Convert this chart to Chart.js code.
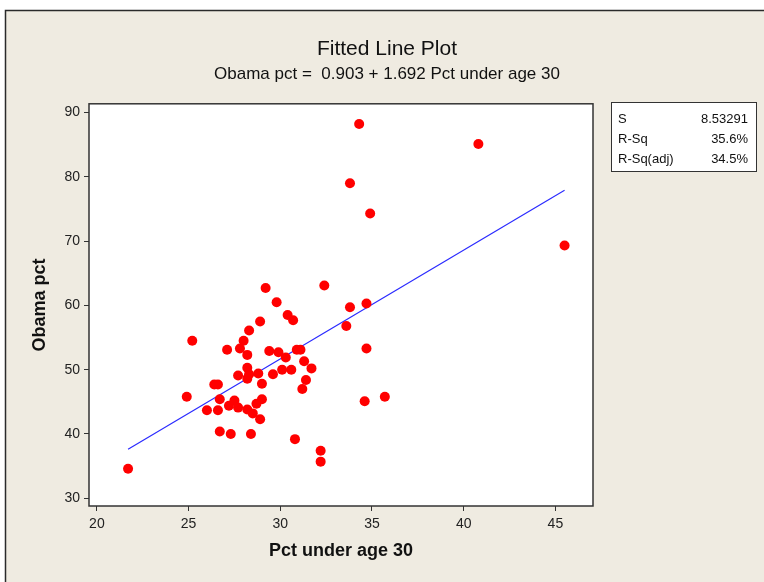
<!DOCTYPE html>
<html>
<head>
<meta charset="utf-8">
<script src="https://cdn.jsdelivr.net/npm/chart.js@4.4.1/dist/chart.umd.min.js"></script>
<style>
  html, body { margin: 0; padding: 0; background: #ffffff; }
  #wrap { width: 764px; height: 582px; }
</style>
</head>
<body>
<div id="wrap"><canvas id="c" width="764" height="582"></canvas></div>
<script>
// Percent of population under age 30 (x) and Obama vote percent (y)
const pctUnder30 = [29.2, 32.4, 29.8, 30.4, 30.7, 28.9, 28.3, 25.2, 28.0, 27.8,
  27.1, 28.2, 29.4, 29.9, 30.3, 30.9, 31.1, 31.3, 31.7, 28.2,
  28.3, 28.8, 27.7, 29.6, 30.1, 30.6, 28.2, 29.0, 31.4, 31.2,
  26.4, 26.6, 24.9, 26.7, 27.5, 27.2, 27.7, 26.0, 26.6, 28.2,
  28.5, 28.7, 29.0, 28.9, 26.7, 27.3, 28.4, 30.8, 32.2, 32.2,
  21.7, 34.3, 40.8, 33.8, 34.9, 45.5, 33.8, 34.7, 33.6, 34.7,
  34.6, 35.7];
const obamaPct = [62.7, 63.1, 60.5, 58.5, 57.7, 57.5, 56.1, 54.5, 54.5, 53.3,
  53.1, 52.3, 52.9, 52.7, 51.9, 53.1, 53.1, 51.3, 50.2, 50.3,
  49.3, 49.4, 49.1, 49.3, 50.0, 50.0, 48.6, 47.8, 48.4, 47.0,
  47.7, 47.7, 45.8, 45.4, 45.2, 44.4, 44.1, 43.7, 43.7, 43.8,
  43.2, 44.7, 45.4, 42.3, 40.4, 40.0, 40.0, 39.2, 37.4, 35.7,
  34.6, 88.2, 85.1, 79.0, 74.3, 69.3, 59.7, 60.3, 56.8, 53.3,
  45.1, 45.8];

// Regression fit: Obama pct = 0.903 + 1.692 Pct under age 30
const fitIntercept = 0.903;
const fitSlope = 1.692;

const xTicks = [20, 25, 30, 35, 40, 45];
const yTicks = [30, 40, 50, 60, 70, 80, 90];

const statLabels = ['S', 'R-Sq', 'R-Sq(adj)'];
const statValues = ['8.53291', '35.6%', '34.5%'];

const points = pctUnder30.map((x, i) => ({ x: x, y: obamaPct[i] }));
const xLo = Math.min(...pctUnder30);
const xHi = Math.max(...pctUnder30);
const fitLine = [xLo, xHi].map(x => ({ x: x, y: fitIntercept + fitSlope * x }));

const FONT = "'Liberation Sans', Arial, sans-serif";
const BG = '#EFEBE1';

// Panel background, plot frame and the summary box
const panel = {
  id: 'panel',
  beforeDraw(chart) {
    const { ctx, width, height, chartArea: a } = chart;
    ctx.save();
    ctx.fillStyle = '#ffffff';
    ctx.fillRect(0, 0, width, height);
    ctx.fillStyle = BG;
    ctx.fillRect(5, 10, width - 5, height - 10);
    ctx.strokeStyle = '#2a2a2a';
    ctx.lineWidth = 1.5;
    ctx.beginPath();
    ctx.moveTo(5.5, height);
    ctx.lineTo(5.5, 10.5);
    ctx.lineTo(width, 10.5);
    ctx.stroke();
    ctx.fillStyle = '#ffffff';
    ctx.fillRect(a.left, a.top, a.right - a.left, a.bottom - a.top);
    ctx.restore();
  },
  afterDatasetsDraw(chart) {
    const { ctx, chartArea: a } = chart;
    ctx.save();
    ctx.strokeStyle = '#333333';
    ctx.lineWidth = 1.5;
    ctx.strokeRect(a.left, a.top, a.right - a.left, a.bottom - a.top);
    ctx.restore();
  },
  afterDraw(chart) {
    const { ctx } = chart;
    const bx = 611.5, by = 102.5, bw = 145, bh = 69;
    ctx.save();
    ctx.fillStyle = '#ffffff';
    ctx.fillRect(bx, by, bw, bh);
    ctx.strokeStyle = '#333333';
    ctx.lineWidth = 1;
    ctx.strokeRect(bx, by, bw, bh);
    ctx.fillStyle = '#111111';
    ctx.font = '13px ' + FONT;
    ctx.textBaseline = 'middle';
    statLabels.forEach((lab, i) => {
      const y = 119 + i * 20.3;
      ctx.textAlign = 'left';
      ctx.fillText(lab, 618, y);
      ctx.textAlign = 'right';
      ctx.fillText(statValues[i], 748, y);
    });
    ctx.restore();
  }
};

new Chart(document.getElementById('c'), {
  type: 'scatter',
  data: {
    datasets: [
      {
        label: 'Obama pct',
        data: points,
        order: 0,
        pointRadius: 5,
        pointHoverRadius: 5,
        pointBackgroundColor: '#ff0000',
        pointBorderWidth: 0,
        borderColor: '#ff0000'
      },
      {
        label: 'Fit',
        type: 'line',
        data: fitLine,
        order: 1,
        showLine: true,
        borderColor: '#2b2bff',
        borderWidth: 1.2,
        pointRadius: 0,
        fill: false
      }
    ]
  },
  options: {
    responsive: false,
    devicePixelRatio: 1,
    animation: false,
    layout: { padding: { left: 10, right: 0, top: 0, bottom: 0 } },
    plugins: {
      legend: { display: false },
      tooltip: { enabled: false },
      title: {
        display: true,
        text: 'Fitted Line Plot',
        color: '#111111',
        font: { family: FONT, size: 21, weight: 'normal', lineHeight: 1.2 },
        padding: { top: 37, bottom: 0 }
      },
      subtitle: {
        display: true,
        text: 'Obama pct =  0.903 + 1.692 Pct under age 30',
        color: '#111111',
        font: { family: FONT, size: 17, weight: 'normal', lineHeight: 1.2 },
        padding: { top: 2, bottom: 19.2 }
      }
    },
    scales: {
      x: {
        type: 'linear',
        position: 'bottom',
        min: 19.57,
        max: 47.05,
        afterBuildTicks: s => { s.ticks = xTicks.map(v => ({ value: v })); },
        afterFit: s => { s.height = 76; },
        border: { display: false },
        grid: { display: true, drawOnChartArea: false, drawTicks: true, tickLength: 5, color: '#333333', lineWidth: 1 },
        ticks: { color: '#222222', padding: 5, font: { family: FONT, size: 14 }, maxRotation: 0 },
        title: {
          display: true,
          text: 'Pct under age 30',
          color: '#111111',
          font: { family: FONT, size: 18, weight: 'bold', lineHeight: 1.2 },
          padding: { top: 0, bottom: 20.2 }
        }
      },
      y: {
        type: 'linear',
        position: 'left',
        min: 28.8,
        max: 91.35,
        afterBuildTicks: s => { s.ticks = yTicks.map(v => ({ value: v })); },
        afterFit: s => { s.width = 79; },
        border: { display: false },
        grid: { display: true, drawOnChartArea: false, drawTicks: true, tickLength: 5, color: '#333333', lineWidth: 1 },
        ticks: { color: '#222222', padding: 4, font: { family: FONT, size: 14 } },
        title: {
          display: true,
          text: 'Obama pct',
          color: '#111111',
          font: { family: FONT, size: 18, weight: 'bold', lineHeight: 1.2 },
          padding: { top: 19.2, bottom: 0 }
        }
      },
      side: {
        type: 'linear',
        position: 'right',
        display: true,
        afterFit: s => { s.width = 171; },
        border: { display: false },
        grid: { display: false },
        ticks: { display: false }
      }
    }
  },
  plugins: [panel]
});
</script>
</body>
</html>
